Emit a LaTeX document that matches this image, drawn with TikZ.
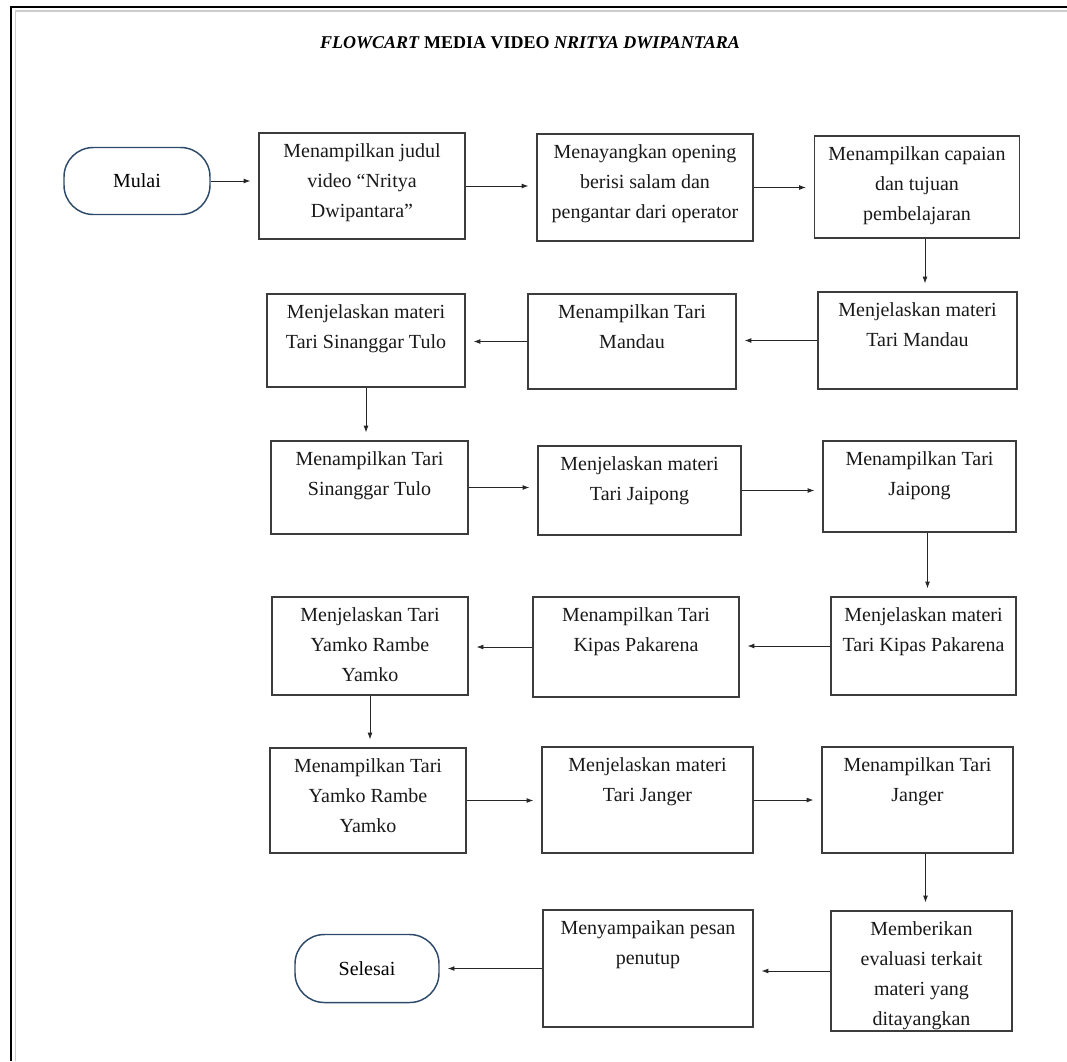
\documentclass[tikz,border=0pt]{standalone}
\usepackage{fontspec}
\setmainfont{Liberation Serif}
\usetikzlibrary{arrows.meta}

\definecolor{garisterminal}{HTML}{2E4A6B}
\definecolor{garisbox}{HTML}{3C3C3C}

\tikzset{
  kotak/.style 2 args={draw=garisbox, line width=0.9pt, minimum width=#1*0.75pt, minimum height=#2*0.75pt, inner sep=0pt},
  terminal/.style 2 args={draw=garisterminal, line width=1.1pt, rounded corners=22pt, minimum width=#1*0.75pt, minimum height=#2*0.75pt, font=\fontsize{15}{22.5}\selectfont},
  isi/.style={anchor=north, align=center, inner sep=2pt, yshift=-6.5pt, font=\fontsize{15}{22.5}\selectfont, text=black!90},
  panah/.style={-{Latex[length=5pt,width=3.6pt]}, line width=0.6pt, draw=black!85, shorten >=6pt},
}

\begin{document}
\begin{tikzpicture}[x=0.75pt, y=-0.75pt]
  \useasboundingbox (0,0) rectangle (1067,1061);

  % bingkai
  \draw[line width=2.2pt] (11,1061) -- (11,7) -- (1067,7);
  \draw[black!20, line width=0.8pt] (15.5,1061) -- (15.5,11) -- (1067,11);

  \node[font=\fontsize{13.5}{16}\selectfont\bfseries] (judul) at (530,43) {\textit{FLOWCART} MEDIA VIDEO \textit{NRITYA DWIPANTARA}};

  % baris 1
  \node[terminal={146}{67}] (mulai) at (137,181) {Mulai};
  \node[kotak={206}{106}, label={[isi]north:Menampilkan judul\\video “Nritya\\Dwipantara”}] (b1) at (362,186) {};
  \node[kotak={216}{107}, label={[isi]north:Menayangkan opening\\berisi salam dan\\pengantar dari operator}] (b2) at (645,187.5) {};
  \node[kotak={205}{102}, label={[isi]north:Menampilkan capaian\\dan tujuan\\pembelajaran}] (b3) at (917,187) {};

  % baris 2
  \node[kotak={199}{97}, label={[isi]north:Menjelaskan materi\\Tari Mandau}] (m1) at (917.5,340.5) {};
  \node[kotak={208}{95}, label={[isi]north:Menampilkan Tari\\Mandau}] (m2) at (632,341.5) {};
  \node[kotak={198}{93}, label={[isi]north:Menjelaskan materi\\Tari Sinanggar Tulo}] (m3) at (366,340.5) {};

  % baris 3
  \node[kotak={197}{93}, label={[isi]north:Menampilkan Tari\\Sinanggar Tulo}] (s1) at (369.5,487.5) {};
  \node[kotak={203}{89}, label={[isi]north:Menjelaskan materi\\Tari Jaipong}] (s2) at (639.5,490.5) {};
  \node[kotak={193}{91}, label={[isi]north:Menampilkan Tari\\Jaipong}] (s3) at (919.5,486.5) {};

  % baris 4
  \node[kotak={185}{98}, label={[isi]north:Menjelaskan materi\\Tari Kipas Pakarena}] (k1) at (923.5,646) {};
  \node[kotak={206}{100}, label={[isi]north:Menampilkan Tari\\Kipas Pakarena}] (k2) at (636,647) {};
  \node[kotak={196}{98}, label={[isi]north:Menjelaskan Tari\\Yamko Rambe\\Yamko}] (k3) at (370,646) {};

  % baris 5
  \node[kotak={196}{105}, label={[isi]north:Menampilkan Tari\\Yamko Rambe\\Yamko}] (y1) at (368,800.5) {};
  \node[kotak={211}{106}, label={[isi]north:Menjelaskan materi\\Tari Janger}] (y2) at (647.5,800) {};
  \node[kotak={191}{106}, label={[isi]north:Menampilkan Tari\\Janger}] (y3) at (917.5,800) {};

  % baris 6
  \node[kotak={181}{120}, label={[isi]north:Memberikan\\evaluasi terkait\\materi yang\\ditayangkan}] (e1) at (921.5,971) {};
  \node[kotak={210}{117}, label={[isi]north:Menyampaikan pesan\\penutup}] (e2) at (648,968.5) {};
  \node[terminal={144}{68}] (selesai) at (367,968.5) {Selesai};

  % alur
  \draw[panah] (mulai) -- (mulai -| b1.west);
  \draw[panah] (b1) -- (b1 -| b2.west);
  \draw[panah] (b2) -- (b2 -| b3.west);
  \draw[panah] ([xshift=6pt]b3.south) -- ([xshift=6pt]b3.south |- m1.north);
  \draw[panah] (m1) -- (m1 -| m2.east);
  \draw[panah] (m2) -- (m2 -| m3.east);
  \draw[panah] (m3.south) -- (m3.south |- s1.north);
  \draw[panah] (s1) -- (s1 -| s2.west);
  \draw[panah] (s2) -- (s2 -| s3.west);
  \draw[panah] ([xshift=6pt]s3.south) -- ([xshift=6pt]s3.south |- k1.north);
  \draw[panah] (k1) -- (k1 -| k2.east);
  \draw[panah] (k2) -- (k2 -| k3.east);
  \draw[panah] (k3.south) -- (k3.south |- y1.north);
  \draw[panah] (y1) -- (y1 -| y2.west);
  \draw[panah] (y2) -- (y2 -| y3.west);
  \draw[panah] ([xshift=6pt]y3.south) -- ([xshift=6pt]y3.south |- e1.north);
  \draw[panah] (e1) -- (e1 -| e2.east);
  \draw[panah] (e2) -- (e2 -| selesai.east);
\end{tikzpicture}
\end{document}
